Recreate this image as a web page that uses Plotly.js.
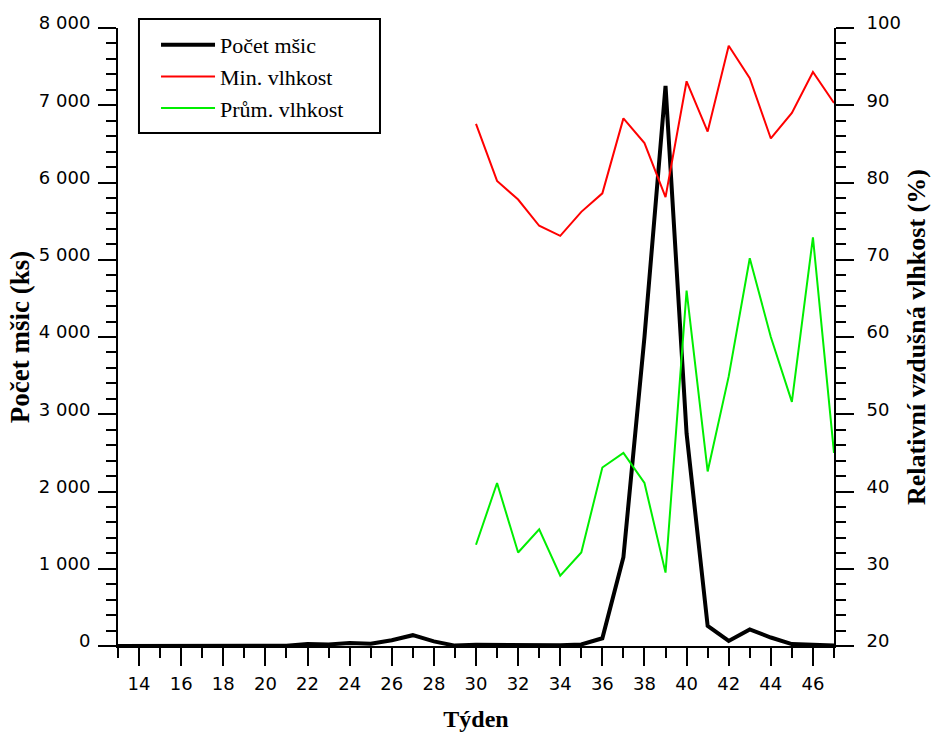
<!DOCTYPE html>
<html>
<head>
<meta charset="utf-8">
<script src="https://cdn.plot.ly/plotly-3.0.1.min.js"></script>
<style>html,body{margin:0;padding:0;background:#fff;}#chart{width:931px;height:738px;}</style>
</head>
<body>
<div id="chart"></div>
<script>
// Weeks (Týden)
const weeksAphids = [13,14,15,16,17,18,19,20,21,22,23,24,25,26,27,28,29,30,31,32,33,34,35,36,37,38,39,40,41,42,43,44,45,46,47];
// Počet mšic (ks)
const aphidCount = [0,0,0,3,0,2,0,0,3,25,20,40,30,75,140,60,5,15,15,5,10,10,20,100,1150,4000,7250,2750,260,65,215,110,25,15,5];
// Humidity weeks
const weeksHumidity = [30,31,32,33,34,35,36,37,38,39,40,41,42,43,44,45,46,47];
// Min. vlhkost (%)
const minHumidity = [87.6,80.2,77.8,74.4,73.1,76.2,78.6,88.3,85.1,78.1,93.1,86.6,97.7,93.5,85.7,89.0,94.3,90.3];
// Prům. vlhkost (%)
const avgHumidity = [33.1,41.1,32.1,35.1,29.1,32.1,43.1,45.0,41.1,29.5,66.0,42.6,54.9,70.2,60.0,51.6,72.9,45.0];

const names = ['Počet mšic', 'Min. vlhkost', 'Prům. vlhkost'];
const xTicks = [14,16,18,20,22,24,26,28,30,32,34,36,38,40,42,44,46];

const traces = [
  {x: weeksAphids, y: aphidCount, name: names[0], type: 'scatter', mode: 'lines',
   line: {color: '#000000', width: 4}, yaxis: 'y'},
  {x: weeksHumidity, y: minHumidity, name: names[1], type: 'scatter', mode: 'lines',
   line: {color: '#ff0000', width: 2}, yaxis: 'y2'},
  {x: weeksHumidity, y: avgHumidity, name: names[2], type: 'scatter', mode: 'lines',
   line: {color: '#00ee00', width: 2}, yaxis: 'y2'}
];

const tickFont = {family: 'DejaVu Sans, Verdana, sans-serif', size: 18, color: '#000'};
const serif = 'Liberation Serif, Times New Roman, serif';

const layout = {
  width: 931, height: 738,
  margin: {l: 118, r: 97, t: 28, b: 92, autoexpand: false},
  paper_bgcolor: '#fff', plot_bgcolor: '#fff',
  separators: ', ',
  showlegend: true,
  legend: {
    x: 0.0531, y: 1.0065, xanchor: 'left', yanchor: 'top',
    borderwidth: 0, bgcolor: 'rgba(0,0,0,0)',
    font: {family: serif, size: 22, color: '#000'},
    itemwidth: 54,
    tracegroupgap: 0
  },
  shapes: [{
    type: 'rect', xref: 'paper', yref: 'paper',
    x0: 0.0293, x1: 0.3659, y0: 0.8301, y1: 1.0146,
    line: {color: '#000', width: 2}, fillcolor: '#fff', layer: 'above'
  }],
  xaxis: {
    range: [13, 47], tickmode: 'array', tickvals: xTicks, ticktext: xTicks.map(String),
    showgrid: false, zeroline: false, showline: true, linecolor: '#000', linewidth: 2,
    ticks: 'outside', ticklen: 18, tickwidth: 2, tickcolor: '#000',
    tickfont: tickFont, ticklabelstandoff: 2,
    minor: {dtick: 1, tick0: 13, ticks: 'outside', ticklen: 10, tickwidth: 2, tickcolor: '#000', showgrid: false},
    title: {text: 'Týden', font: {family: serif, size: 24, color: '#000', weight: 'bold'}, standoff: 18}
  },
  yaxis: {
    range: [0, 8000], dtick: 1000, tick0: 0, separatethousands: true,
    showgrid: false, zeroline: false, showline: true, linecolor: '#000', linewidth: 2,
    ticks: 'outside', ticklen: 18, tickwidth: 2, tickcolor: '#000',
    tickfont: tickFont, ticklabelstandoff: 4, ticklabelshift: -5,
    minor: {dtick: 200, ticks: 'outside', ticklen: 10, tickwidth: 2, tickcolor: '#000', showgrid: false},
    title: {text: 'Počet mšic (ks)', font: {family: serif, size: 27, color: '#000', weight: 'bold'}, standoff: 1}
  },
  yaxis2: {
    range: [20, 100], dtick: 10, tick0: 20, overlaying: 'y', side: 'right',
    showgrid: false, zeroline: false, showline: true, linecolor: '#000', linewidth: 2,
    ticks: 'outside', ticklen: 18, tickwidth: 2, tickcolor: '#000',
    tickfont: tickFont, ticklabelstandoff: 9, ticklabelshift: -5,
    minor: {dtick: 2, ticks: 'outside', ticklen: 10, tickwidth: 2, tickcolor: '#000', showgrid: false},
    title: {text: 'Relativní vzdušná vlhkost (%)', font: {family: serif, size: 26, color: '#000', weight: 'bold'}, standoff: 8}
  }
};

Plotly.newPlot('chart', traces, layout, {displayModeBar: false, staticPlot: true});
</script>
</body>
</html>
